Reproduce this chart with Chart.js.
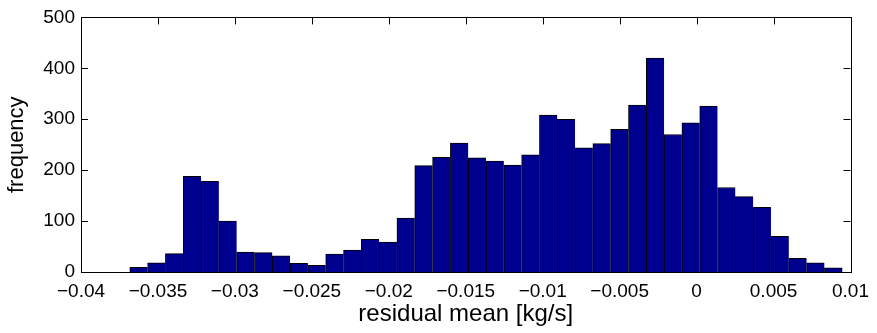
<!DOCTYPE html>
<html>
<head>
<meta charset="utf-8">
<script src="https://cdn.jsdelivr.net/npm/chart.js@4.4.1/dist/chart.umd.min.js"></script>
<style>
  html, body { margin: 0; padding: 0; background: #fff; }
</style>
</head>
<body>
<canvas id="myChart" width="877" height="333"></canvas>
<script>
// histogram bin centres (40 bins) and counts
const binCenters = [
  -0.036251, -0.035094, -0.033937, -0.032780, -0.031622, -0.030465, -0.029308, -0.028150, -0.026993, -0.025836,
  -0.024679, -0.023521, -0.022364, -0.021207, -0.020050, -0.018892, -0.017735, -0.016578, -0.015420, -0.014263,
  -0.013106, -0.011949, -0.010791, -0.009634, -0.008477, -0.007320, -0.006162, -0.005005, -0.003848, -0.002690,
  -0.001533, -0.000376, 0.000781, 0.001939, 0.003096, 0.004253, 0.005411, 0.006568, 0.007725, 0.008882
];
const counts = [
  9, 18, 36, 188, 178, 100, 39, 38, 32, 17,
  13, 35, 43, 64, 59, 106, 209, 225, 253, 224,
  218, 210, 230, 308, 300, 244, 252, 280, 328, 420,
  270, 293, 326, 166, 148, 127, 70, 27, 18, 8
];
const xTicks = [-0.04, -0.035, -0.03, -0.025, -0.02, -0.015, -0.01, -0.005, 0, 0.005, 0.01];
const yTicks = [0, 100, 200, 300, 400, 500];

const FONT = 'Liberation Sans, Arial, Helvetica, sans-serif';

// matlab style box with inward ticks on all four sides
const boxPlugin = {
  id: 'box',
  beforeDatasetsDraw(chart) {
    const { ctx, chartArea: a, scales: { x, y } } = chart;
    ctx.save();
    ctx.strokeStyle = '#000';
    ctx.lineWidth = 1;
    ctx.beginPath();
    xTicks.forEach(v => {
      const px = Math.round(x.getPixelForValue(v)) + 0.5;
      ctx.moveTo(px, a.top); ctx.lineTo(px, a.top + 7);
      ctx.moveTo(px, a.bottom); ctx.lineTo(px, a.bottom - 7);
    });
    yTicks.forEach(v => {
      const py = Math.round(y.getPixelForValue(v)) + 0.5;
      ctx.moveTo(a.left, py); ctx.lineTo(a.left + 7, py);
      ctx.moveTo(a.right, py); ctx.lineTo(a.right - 7, py);
    });
    ctx.stroke();
    ctx.restore();
  },
  afterDatasetsDraw(chart) {
    const { ctx, chartArea: a } = chart;
    ctx.save();
    ctx.strokeStyle = '#000';
    ctx.lineWidth = 1;
    ctx.strokeRect(Math.round(a.left) + 0.5, Math.round(a.top) + 0.5,
      Math.round(a.right) - Math.round(a.left), Math.round(a.bottom) - Math.round(a.top));
    ctx.restore();
  }
};

const data = {
  datasets: [{
    label: 'frequency',
    data: binCenters.map((c, i) => ({ x: c, y: counts[i] })),
    backgroundColor: '#00008F',
    borderColor: '#000000',
    borderWidth: (c) => ({ top: 1, left: 1, right: c.dataIndex === counts.length - 1 ? 1 : 0, bottom: 0 }),
    barPercentage: 1,
    categoryPercentage: 1
  }]
};

const config = {
  type: 'bar',
  data: data,
  plugins: [boxPlugin],
  options: {
    responsive: false,
    animation: false,
    layout: { padding: { left: 0, right: 22, top: 14, bottom: 0 } },
    plugins: {
      legend: { display: false },
      tooltip: { enabled: false }
    },
    scales: {
      x: {
        type: 'linear',
        min: -0.04,
        max: 0.01,
        offset: false,
        grid: { display: false, drawTicks: false, offset: false },
        border: { display: false },
        afterBuildTicks: (s) => { s.ticks = xTicks.map(v => ({ value: v })); },
        afterFit: (s) => { s.height = 61; },
        ticks: {
          autoSkip: false,
          maxRotation: 0,
          padding: 8,
          color: '#000',
          font: { family: FONT, size: 19 },
          callback: (v) => String(Number(v.toFixed(3))).replace('-', '\u2212')
        },
        title: {
          display: true,
          text: 'residual mean [kg/s]',
          color: '#000',
          font: { family: FONT, size: 24 },
          padding: { top: 0, bottom: 4 }
        }
      },
      y: {
        min: 0,
        max: 500,
        grid: { display: false, drawTicks: false },
        border: { display: false },
        afterBuildTicks: (s) => { s.ticks = yTicks.map(v => ({ value: v })); },
        afterFit: (s) => { s.width = 81; },
        ticks: {
          padding: 6,
          color: '#000',
          font: { family: FONT, size: 19 }
        },
        title: {
          display: true,
          text: 'frequency',
          color: '#000',
          font: { family: FONT, size: 22 },
          padding: { top: 4, bottom: 0 }
        }
      }
    }
  }
};

const myChart = new Chart(document.getElementById('myChart'), config);
</script>
</body>
</html>
